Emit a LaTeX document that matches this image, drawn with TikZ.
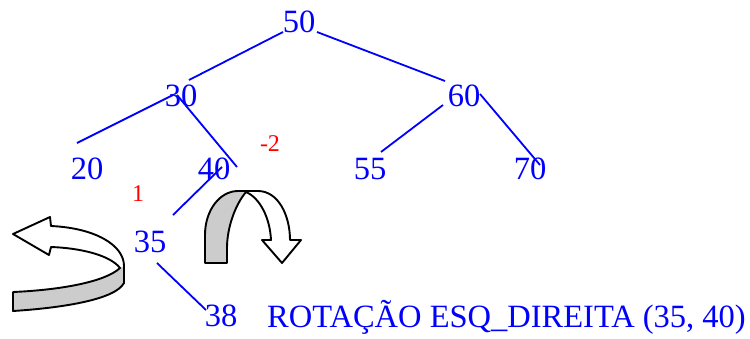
\documentclass[tikz,border=0pt]{standalone}
\usepackage{fontspec}
\setmainfont{Liberation Serif}
\begin{document}
\begin{tikzpicture}[x=1pt,y=-1pt,
  num/.style={anchor=base,inner sep=0pt,text=blue,font=\fontsize{32.5}{36}\selectfont},
  redlab/.style={anchor=base,inner sep=0pt,text=red,font=\fontsize{24}{26}\selectfont},
  edge/.style={draw=blue,line width=1.8pt},
  arrowbody/.style={draw=black,line width=1.9pt,line join=round},
  ribbon/.style={fill=black!20}]
\useasboundingbox (0,0) rectangle (750,338);
% nodes
\node[num] (n50) at (299,32) {50};
\node[num] (n30) at (181,106) {30};
\node[num] (n60) at (464,106) {60};
\node[num] (n20) at (87,179) {20};
\node[num] (n40) at (214,179) {40};
\node[num] (n55) at (370,179) {55};
\node[num] (n70) at (530,179) {70};
\node[num] (n35) at (150,252) {35};
\node[num] (n38) at (221,326) {38};
\node[num,anchor=base west] (lbl) at (267,327) {ROTAÇÃO ESQ\_DIREITA (35, 40)};
\node[redlab] (bm2) at (270,151) {-2};
\node[redlab] (b1) at (138,201) {1};
% edges
\draw[edge] ([shift={(-16,0)}]n50.base) -- ([shift={(8,-26)}]n30.base);
\draw[edge] ([shift={(18,0)}]n50.base) -- ([shift={(-19,-25)}]n60.base);
\draw[edge] ([shift={(-8,-11)}]n30.base) -- ([shift={(-10,-36)}]n20.base);
\draw[edge] ([shift={(-4,-11)}]n30.base) -- ([shift={(23,-12)}]n40.base);
\draw[edge] ([shift={(8,-12)}]n40.base) -- ([shift={(23,-37)}]n35.base);
\draw[edge] ([shift={(7,11)}]n35.base) -- ([shift={(-15,-16)}]n38.base);
\draw[edge] ([shift={(-21,-1)}]n60.base) -- ([shift={(11,-27)}]n55.base);
\draw[edge] ([shift={(16,-12)}]n60.base) -- ([shift={(10,-14)}]n70.base);
% left rotation arrow
\fill[ribbon] (13,292) .. controls (60,290) and (105,282) .. (120,268) -- (124,266) -- (124,283) .. controls (115,300) and (60,308) .. (13,311) -- cycle;
\draw[arrowbody] (13,234) -- (50,217) -- (51,226) .. controls (95,228) and (124,245) .. (124,266) -- (124,283) .. controls (115,300) and (60,308) .. (13,311) -- (13,292) .. controls (60,290) and (105,282) .. (120,268) .. controls (110,255) and (80,248) .. (51,247) -- (49,255) -- cycle;
% right rotation arrow
\fill[ribbon] (205,263) -- (205,235) .. controls (205,210) and (220,191) .. (238,191) -- (246,192) .. controls (235,205) and (227,228) .. (227,248) -- (227,263) -- cycle;
\draw[arrowbody] (205,263) -- (205,235) .. controls (205,210) and (220,191) .. (238,191) -- (258,191) .. controls (278,191) and (290,215) .. (290,240) -- (301,240) -- (282,263) -- (262,240) -- (271,240) .. controls (270,218) and (260,198) .. (246,192) .. controls (235,205) and (227,228) .. (227,248) -- (227,263) -- cycle;
\end{tikzpicture}
\end{document}
